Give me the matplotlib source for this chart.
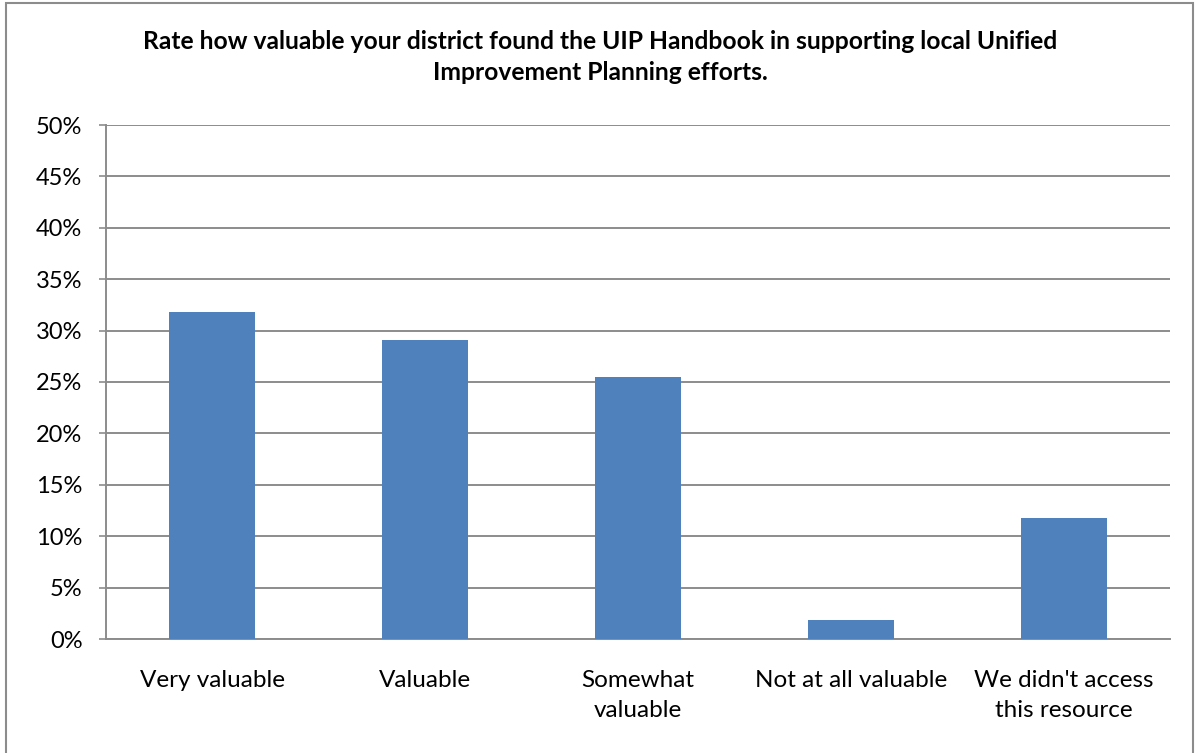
import matplotlib
matplotlib.use("Agg")
import matplotlib.pyplot as plt
from matplotlib.patches import Rectangle
from matplotlib.ticker import MultipleLocator, PercentFormatter

categories = ["Very valuable", "Valuable", "Somewhat\nvaluable", "Not at all valuable", "We didn't access\nthis resource"]
values = [31.8, 29.1, 25.5, 1.8, 11.8]
title = "Rate how valuable your district found the UIP Handbook in supporting local Unified\nImprovement Planning efforts."

plt.rcParams['font.family'] = ['Lato', 'DejaVu Sans']

W, H = 1197, 753
fig = plt.figure(figsize=(W / 100, H / 100), dpi=100)
ax = fig.add_axes([106 / W, 1 - 639 / H, (1170 - 106) / W, (639 - 125) / H])

x = list(range(len(categories)))
ax.bar(x, values, width=0.404, color="#4F81BD", zorder=3)
ax.set_xlim(-0.5, len(categories) - 0.5)
ax.set_ylim(0, 50)
ax.yaxis.set_major_locator(MultipleLocator(5))
ax.yaxis.set_major_formatter(PercentFormatter(decimals=0))
ax.grid(axis="y", color="#8C8C8C", linewidth=1.4, zorder=0)
ax.set_axisbelow(True)
ax.set_xticks(x)
ax.set_xticklabels(categories, fontsize=17.5, linespacing=1.55)
ax.tick_params(axis="x", length=0, pad=22)
ax.tick_params(axis="y", labelsize=17, length=5, width=1.2, color="#8C8C8C", pad=12)
for s in ["top", "right"]:
    ax.spines[s].set_visible(False)
for s in ["left", "bottom"]:
    ax.spines[s].set_color("#8C8C8C")
    ax.spines[s].set_linewidth(1.4)

fig.text(600 / W, 1 - 57 / H, title, ha="center", va="center", fontsize=17.7,
         fontweight="bold", linespacing=1.45)

fig.patches.append(Rectangle((6 / W, -0.05), (1193 - 6) / W, 1 - 3 / H + 0.05,
                             transform=fig.transFigure, fill=False,
                             edgecolor="#8C8C8C", linewidth=1.5))

fig.savefig("out.png", dpi=100)
